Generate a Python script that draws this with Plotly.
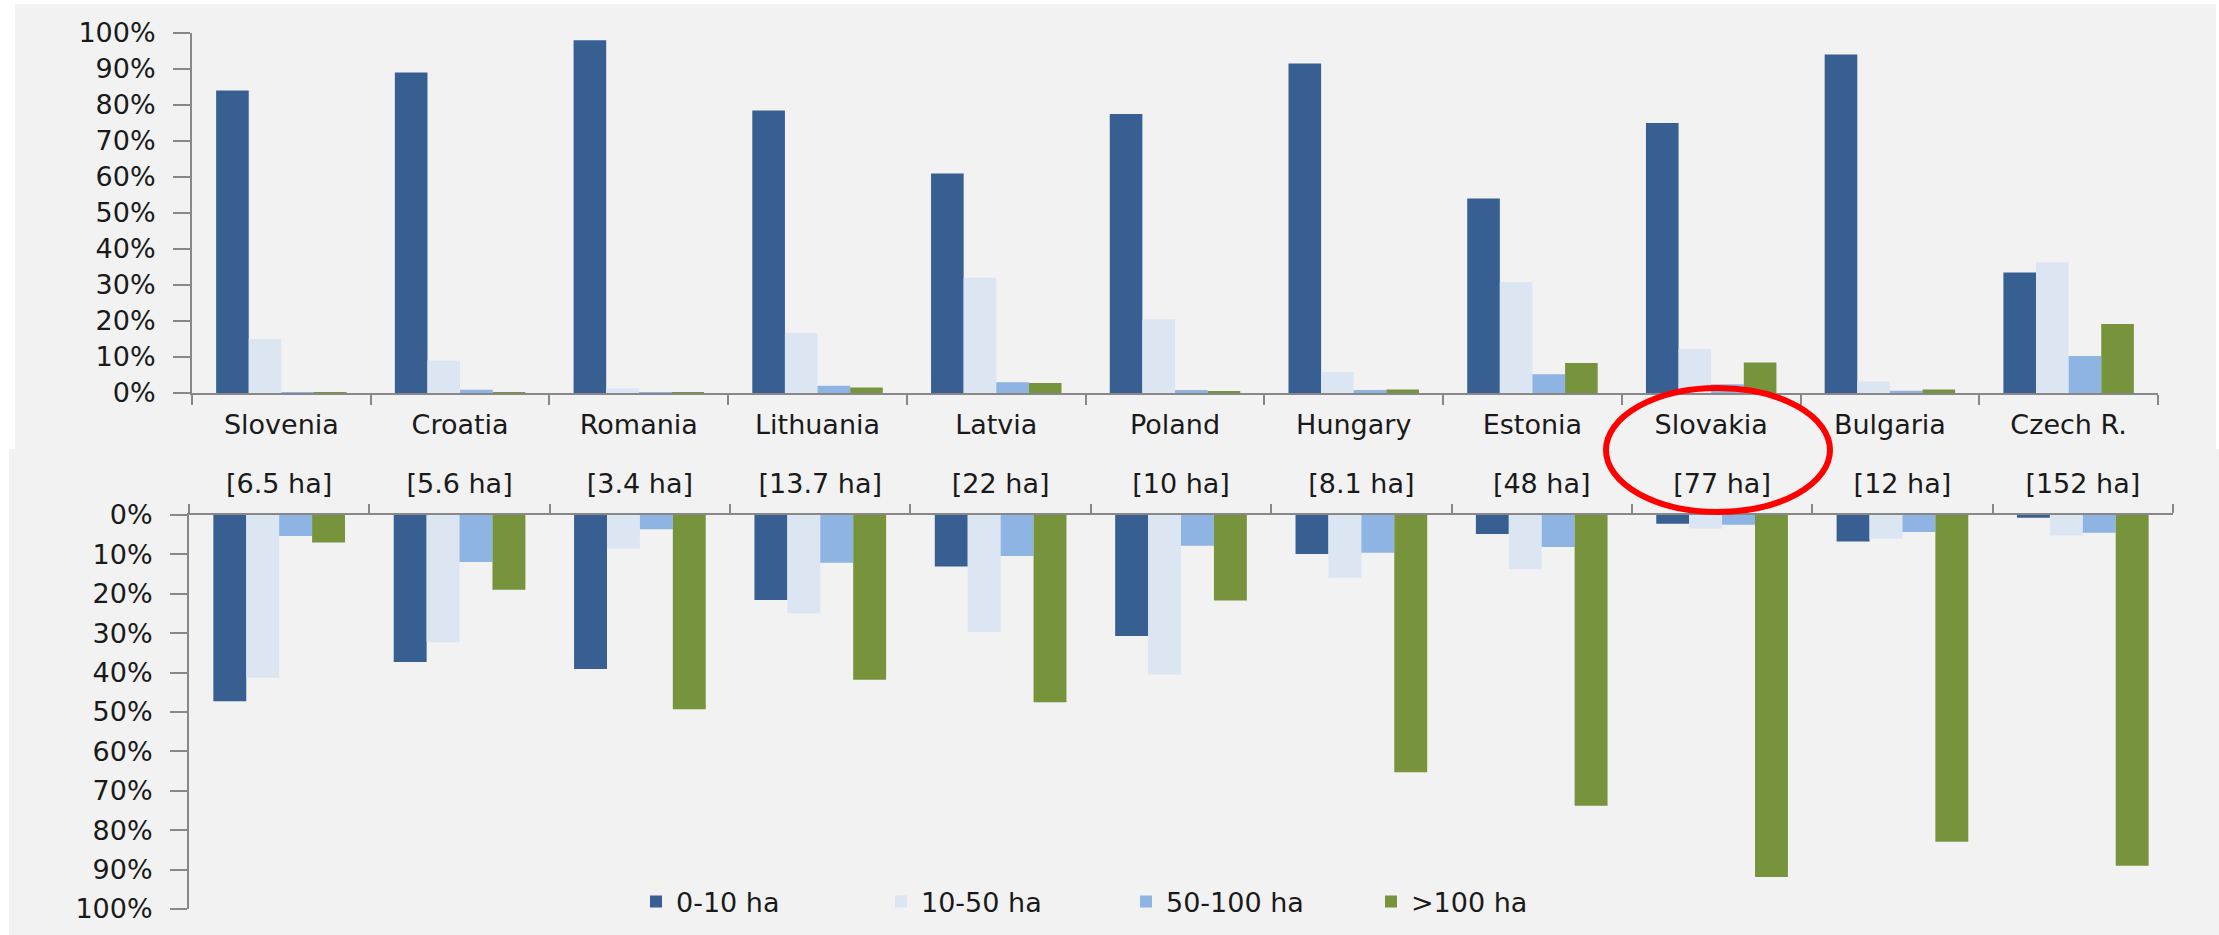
import plotly.graph_objects as go

W, H = 2219, 935

categories = ["Slovenia", "Croatia", "Romania", "Lithuania", "Latvia", "Poland",
              "Hungary", "Estonia", "Slovakia", "Bulgaria", "Czech R."]
avg_size = ["[6.5 ha]", "[5.6 ha]", "[3.4 ha]", "[13.7 ha]", "[22 ha]", "[10 ha]",
            "[8.1 ha]", "[48 ha]", "[77 ha]", "[12 ha]", "[152 ha]"]
series_names = ["0-10 ha", "10-50 ha", "50-100 ha", ">100 ha"]

# top panel: share of holdings (%)
hold_0_10 = [84, 89, 98, 78.5, 61, 77.5, 91.5, 54, 75, 94, 33.5]
hold_10_50 = [15, 9, 1.3, 16.7, 32, 20.5, 5.8, 30.8, 12.2, 3.2, 36.3]
hold_50_100 = [0.2, 0.9, 0.2, 2, 3, 0.8, 0.8, 5.2, 2.4, 0.6, 10.3]
hold_100 = [0.1, 0.2, 0.1, 1.5, 2.8, 0.4, 1, 8.3, 8.5, 1, 19.2]

# bottom panel: share of area (%)
area_0_10 = [47.3, 37.3, 39.1, 21.6, 13.1, 30.7, 9.9, 4.8, 2.2, 6.7, 0.7]
area_10_50 = [41.3, 32.3, 8.5, 25, 29.7, 40.5, 15.9, 13.8, 3.4, 6, 5.2]
area_50_100 = [5.3, 11.9, 3.6, 12.1, 10.4, 7.8, 9.6, 8.1, 2.5, 4.3, 4.5]
area_100 = [7, 19, 49.3, 41.8, 47.5, 21.7, 65.3, 73.8, 91.9, 82.9, 89]

y_ticks = list(range(0, 101, 10))
y_ticktext = [f"{v}%" for v in y_ticks]

colors = ["#375F92", "#DCE6F2", "#8EB4E3", "#77933C"]
FONT = "DejaVu Sans"
TXT = "#1a1a1a"
AXC = "#888888"
FS = 27

def px_x(v):
    return v / W

def px_y(v):
    return (H - v) / H

fig = go.Figure()

top_series = [hold_0_10, hold_10_50, hold_50_100, hold_100]
bot_series = [area_0_10, area_10_50, area_50_100, area_100]

for name, vals, c in zip(series_names, top_series, colors):
    fig.add_trace(go.Bar(x=categories, y=vals, name=name, marker_color=c,
                         marker_line_width=0, xaxis="x", yaxis="y",
                         showlegend=False, legendgroup=name))
for name, vals, c in zip(series_names, bot_series, colors):
    fig.add_trace(go.Bar(x=categories, y=vals, name=name, marker_color=c,
                         marker_line_width=0, xaxis="x2", yaxis="y2",
                         showlegend=True, legendgroup=name))

tickfont = dict(family=FONT, size=FS, color=TXT)

common_x = dict(type="category", categoryorder="array", categoryarray=categories,
                tickmode="array", tickvals=categories,
                tickson="boundaries", ticks="outside", tickwidth=2,
                tickcolor=AXC, showline=True, linecolor=AXC, linewidth=2,
                showgrid=False, zeroline=False, tickfont=tickfont,
                automargin=False, fixedrange=True)
common_y = dict(tickmode="array", tickvals=y_ticks, ticktext=y_ticktext,
                ticks="outside", ticklen=17, tickwidth=2, tickcolor=AXC,
                showline=True, linecolor=AXC, linewidth=2,
                showgrid=False, zeroline=False, tickfont=tickfont,
                ticklabelstandoff=12, automargin=False, fixedrange=True)

fig.update_layout(
    width=W, height=H,
    margin=dict(l=0, r=0, t=0, b=0, autoexpand=False),
    paper_bgcolor="white",
    plot_bgcolor="rgba(0,0,0,0)",
    barmode="group",
    bargap=0.27,
    bargroupgap=0,
    font=dict(family=FONT, size=FS, color=TXT),
    xaxis=dict(common_x, domain=[px_x(192), px_x(2158)], anchor="y",
               ticktext=categories, ticklen=10, ticklabelstandoff=7),
    yaxis=dict(common_y, domain=[px_y(393), px_y(33)], anchor="x", range=[0, 100]),
    xaxis2=dict(common_x, domain=[px_x(189), px_x(2173)], anchor="y2", side="top",
                ticktext=avg_size, ticklen=9, ticklabelstandoff=9),
    yaxis2=dict(common_y, domain=[px_y(909), px_y(515)], anchor="x2", range=[100, 0]),
    legend=dict(
        orientation="h", x=px_x(636), xanchor="left",
        y=px_y(902), yanchor="middle",
        bgcolor="rgba(0,0,0,0)", borderwidth=0,
        font=dict(family=FONT, size=FS, color=TXT),
        traceorder="normal",
        entrywidth=200, entrywidthmode="pixels",
    ),
    shapes=[
        dict(type="rect", xref="paper", yref="paper", layer="below",
             x0=px_x(15), x1=px_x(2216), y0=px_y(449), y1=px_y(4),
             fillcolor="#F2F2F2", line=dict(width=0)),
        dict(type="rect", xref="paper", yref="paper", layer="below",
             x0=px_x(9), x1=px_x(2219), y0=px_y(935), y1=px_y(449),
             fillcolor="#F2F2F2", line=dict(width=0)),
        dict(type="circle", xref="paper", yref="paper", layer="above",
             x0=px_x(1606), x1=px_x(1830), y0=px_y(512), y1=px_y(388),
             line=dict(color="#FF0000", width=6), fillcolor="rgba(0,0,0,0)"),
    ],
)

fig.write_html("out.html", config={"displayModeBar": False},
               post_script="document.body.style.margin='0';document.body.style.overflow='hidden';")
